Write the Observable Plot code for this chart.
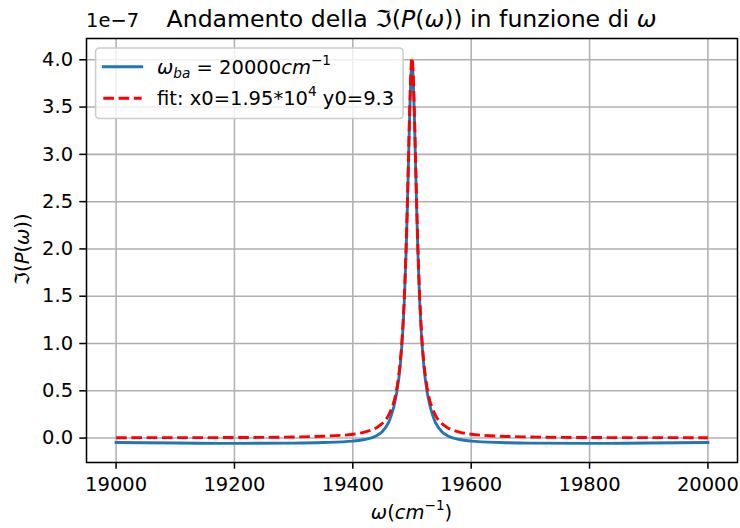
<!DOCTYPE html>
<html><head><meta charset="utf-8">
<script src="https://cdn.jsdelivr.net/npm/d3@7"></script>
<script src="https://cdn.jsdelivr.net/npm/@observablehq/plot@0.6"></script>
<style>html,body{margin:0;padding:0;background:#fff}svg{display:block}</style>
</head><body><div id="chart"></div>
<script>
// ω (cm^-1) sample positions
const omega = [19000,19100,19200,19300,19350,19400,19420,19440,19450,19460,19465,19470,19475,19480,19483,19485,19487,19490,19492,19494,19496,19498,
  19500,
  19502,19504,19506,19508,19510,19513,19515,19517,19520,19525,19530,19535,19540,19550,19560,19580,19600,19650,19700,19800,19900,20000];
// Im(P(ω)) in units of 1e-7 (blue, solid)
const imP = [-0.046,-0.052,-0.056,-0.053,-0.047,-0.032,-0.015,0.025,0.07,0.16,0.24,0.35,0.51,0.76,0.99,1.19,1.45,1.96,2.40,2.90,3.41,3.80,
  3.96,
  3.80,3.41,2.90,2.40,1.96,1.45,1.19,0.99,0.76,0.51,0.35,0.24,0.16,0.07,0.025,-0.015,-0.032,-0.047,-0.053,-0.056,-0.052,-0.046];
// Lorentzian fit in units of 1e-7 (red, dashed)
const fitP = [0.004,0.005,0.006,0.012,0.020,0.041,0.064,0.11,0.156,0.237,0.305,0.40,0.553,0.80,1.03,1.235,1.49,2.01,2.45,2.95,3.46,3.86,
  4.02,
  3.86,3.46,2.95,2.45,2.01,1.49,1.235,1.03,0.80,0.553,0.40,0.305,0.237,0.156,0.11,0.064,0.041,0.020,0.012,0.006,0.005,0.004];
const xTicks = [19000,19200,19400,19600,19800,20000];
const yTicks = [0,0.5,1,1.5,2,2.5,3,3.5,4];

const blue = omega.map((x, i) => ({x, y: imP[i]}));
const red = omega.map((x, i) => ({x, y: fitP[i]}));

const FS = 19.5;      // 10pt
const PT = 1.92;      // px per pt
const LW = 1.5 * PT;
const grid = {stroke: "#b0b0b0", strokeOpacity: 1, strokeWidth: 0.8 * PT};
const plot = Plot.plot({
  width: 740, height: 528,
  marginLeft: 86, marginRight: 3, marginTop: 38, marginBottom: 66,
  style: {fontFamily: "DejaVu Sans", fontSize: FS + "px", background: "#fff", color: "#000"},
  x: {domain: [18950, 20050]},
  y: {domain: [-0.258, 4.225]},
  marks: [
    Plot.gridX(xTicks, grid),
    Plot.gridY(yTicks, grid),
    Plot.line(blue, {x: "x", y: "y", stroke: "#1f77b4", strokeWidth: LW, curve: "monotone-x", strokeLinecap: "square"}),
    Plot.line(red, {x: "x", y: "y", stroke: "#ff0000", strokeWidth: LW, strokeDasharray: `${3.7 * LW},${1.6 * LW}`, curve: "monotone-x", strokeLinecap: "butt"}),
    Plot.frame({stroke: "#000", strokeWidth: 0.8 * PT}),
    Plot.axisX(xTicks, {tickSize: 3.5 * PT, tickPadding: 3.5 * PT + 1.5, tickFormat: d => String(d), label: null, strokeWidth: 0.8 * PT, fontSize: FS}),
    Plot.axisY(yTicks, {tickSize: 3.5 * PT, tickPadding: 3.5 * PT, tickFormat: d3.format(".1f"), label: null, strokeWidth: 0.8 * PT, fontSize: FS})
  ]
});
document.getElementById("chart").appendChild(plot);

const svg = d3.select(plot);
const g = svg.append("g").attr("font-family", "DejaVu Sans").attr("fill", "#000").attr("text-anchor", "start");
function rich(t, parts) {
  for (const p of parts) {
    const s = t.append("tspan").text(p.t);
    if (p.i) s.attr("font-style", "italic");
    if (p.fs) s.attr("font-size", p.fs);
    if (p.dy) s.attr("dy", p.dy);
  }
  return t;
}
const SUB = FS * 0.7;
// title
rich(g.append("text").attr("x", 411.5).attr("y", 26.5).attr("text-anchor", "middle").attr("font-size", 23.6), [
  {t: "Andamento della ℑ("}, {t: "P", i: 1}, {t: "("}, {t: "ω", i: 1}, {t: ")) in funzione di "}, {t: "ω", i: 1}
]);
// offset text
g.append("text").attr("x", 86).attr("y", 27).attr("font-size", FS).attr("text-anchor", "start").text("1e−7");
// y label
rich(g.append("text").attr("transform", "translate(29,249.5) rotate(-90)").attr("text-anchor", "middle").attr("font-size", FS), [
  {t: "ℑ("}, {t: "P", i: 1}, {t: "("}, {t: "ω", i: 1}, {t: "))"}
]);
// x label
rich(g.append("text").attr("x", 411.5).attr("y", 519).attr("text-anchor", "middle").attr("font-size", FS), [
  {t: "ω", i: 1}, {t: "("}, {t: "cm", i: 1}, {t: "−1", fs: SUB, dy: -8.7}, {t: ")", dy: 8.7}
]);
// legend
const lg = g.append("g");
lg.append("rect").attr("x", 95.6).attr("y", 48).attr("width", 307.5).attr("height", 70.5).attr("rx", 3.8)
  .attr("fill", "#fff").attr("fill-opacity", 0.8).attr("stroke", "#cccccc").attr("stroke-width", 0.8 * PT);
lg.append("line").attr("x1", 103.3).attr("x2", 141.7).attr("y1", 66.7).attr("y2", 66.7)
  .attr("stroke", "#1f77b4").attr("stroke-width", LW).attr("stroke-linecap", "square");
lg.append("line").attr("x1", 103.3).attr("x2", 141.7).attr("y1", 98.3).attr("y2", 98.3)
  .attr("stroke", "#ff0000").attr("stroke-width", LW).attr("stroke-dasharray", `${3.7 * LW},${1.6 * LW}`);
rich(lg.append("text").attr("x", 157).attr("y", 73.5).attr("font-size", FS).attr("text-anchor", "start"), [
  {t: "ω", i: 1}, {t: "ba", i: 1, fs: SUB, dy: 4}, {t: " = 20000", dy: -4}, {t: "cm", i: 1}, {t: "−1", fs: SUB, dy: -8.7}
]);
rich(lg.append("text").attr("x", 157).attr("y", 104.5).attr("font-size", FS).attr("text-anchor", "start"), [
  {t: "fit: x0=1.95*10"}, {t: "4", fs: SUB, dy: -8.7}, {t: " y0=9.3", dy: 8.7}
]);
</script>
</body></html>
